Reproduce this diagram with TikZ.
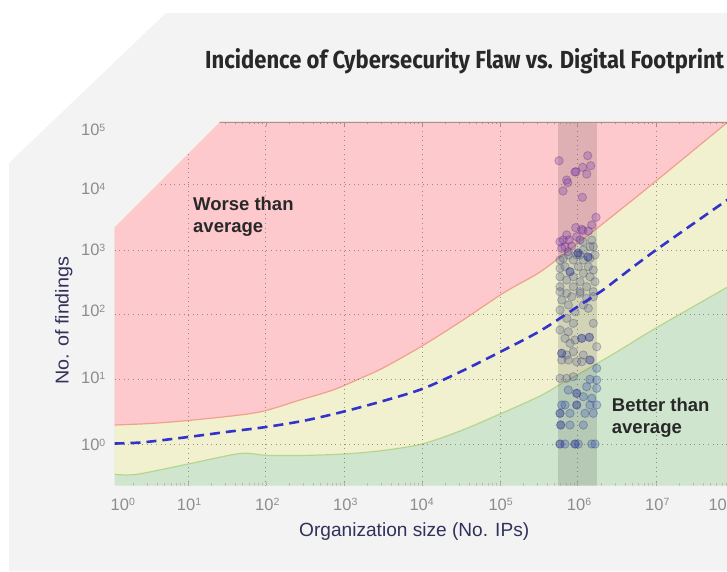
\documentclass[tikz,border=0pt]{standalone}
\usepackage{fontspec}
\setmainfont{Liberation Sans}
\newfontfamily\titlefont{Fira Sans}
\usepackage{graphicx}
\definecolor{bggray}{HTML}{F3F3F3}
\definecolor{redzone}{HTML}{FDC9CC}
\definecolor{yellowzone}{HTML}{F1F1CF}
\definecolor{greenzone}{HTML}{CFE5CE}
\definecolor{redline}{HTML}{F2A08E}
\definecolor{greenline}{HTML}{B6D68E}
\definecolor{meanblue}{HTML}{3333CC}
\definecolor{tickgray}{HTML}{8C8C8C}
\definecolor{axisnavy}{HTML}{31315C}
\definecolor{textdark}{HTML}{282828}
\definecolor{spinec}{HTML}{A89090}
\definecolor{ptpurple}{HTML}{8040B0}
\definecolor{ptslate}{HTML}{5A6490}
\definecolor{ptblue}{HTML}{3A58B8}
\definecolor{ptdark}{HTML}{25308F}
\newcommand\tenp[1]{10\raisebox{4.3pt}{\fontsize{10.5}{10.5}\selectfont #1}}
\begin{document}
\begin{tikzpicture}[x=1pt,y=-1pt,
  gridln/.style={black!65, opacity=.6, line width=1pt, dash pattern=on 1pt off 3.6pt},
  ticklab/.style={text=tickgray, font=\fontsize{16.5}{16.5}\selectfont, inner sep=0pt},
  zonelabel/.style={text=textdark, font=\fontsize{18.5}{22.5}\selectfont\bfseries, align=left, inner sep=0pt, anchor=north west},
  dotpurple/.style={fill=ptpurple, fill opacity=.3, draw=ptpurple!70!black, draw opacity=.35, line width=.8pt},
  dotslate/.style={fill=ptslate, fill opacity=.26, draw=ptslate!70!black, draw opacity=.32, line width=.8pt},
  dotblue/.style={fill=ptblue, fill opacity=.28, draw=ptblue!70!black, draw opacity=.35, line width=.8pt},
  dotdark/.style={fill=ptdark, fill opacity=.42, draw=ptdark, draw opacity=.5, line width=.8pt},
  spinetick/.style={spinec, line width=.7pt}
]
\useasboundingbox (0,0) rectangle (727,571);
\fill[white] (0,0) rectangle (727,571);
\fill[bggray] (9,163) -- (166,13) -- (727,13) -- (727,571) -- (9,571) -- cycle;

\begin{scope}
\clip (114.5,227.7) -- (220.5,121.7) -- (740,121.7) -- (740,485.7) -- (114.5,485.7) -- cycle;
\fill[greenzone] (100,100) rectangle (745,500);
\fill[yellowzone] (100,100) -- (100,474.3) -- plot[smooth,tension=.5] coordinates {(114.5,474.3) (136.7,474.3) (188,464) (240,453.5) (266,455.3) (300,455.5) (344,454) (383,450.5) (422,444) (460,431) (500,414) (540,396) (560,384.5) (577,375) (597,363.5) (620,350) (656,328) (740,280)} -- (745,100) -- cycle;
\fill[redzone] (100,100) -- (100,425) -- plot[smooth,tension=.5] coordinates {(114.5,425) (150,423.5) (188,420.5) (240,415) (266,410.5) (300,400) (333,390) (360,378.5) (383,368) (422,346) (460,322) (505,292) (540,272) (577,244) (620,210) (656,181) (740,112)} -- (745,100) -- cycle;
\draw[redline, line width=1.2pt] plot[smooth,tension=.5] coordinates {(114.5,425) (150,423.5) (188,420.5) (240,415) (266,410.5) (300,400) (333,390) (360,378.5) (383,368) (422,346) (460,322) (505,292) (540,272) (577,244) (620,210) (656,181) (740,112)};
\draw[greenline, line width=1.2pt] plot[smooth,tension=.5] coordinates {(114.5,474.3) (136.7,474.3) (188,464) (240,453.5) (266,455.3) (300,455.5) (344,454) (383,450.5) (422,444) (460,431) (500,414) (540,396) (560,384.5) (577,375) (597,363.5) (620,350) (656,328) (740,280)};
% band
\fill[black, opacity=.12] (557.5,121.7) rectangle (597.3,485.7);
% grid
\foreach \gx in {188.3,265.9,344.3,422.3,500,577.3,656,734}
  \draw[gridln] (\gx,121.7) -- (\gx,485.7);
\foreach \gy in {184.3,250,314.5,379.3,444}
  \draw[gridln] (114.5,\gy) -- (740,\gy);
% spine and ticks
\draw[spinec, line width=.8pt] (114.5,121.9) -- (740,121.9);
\foreach \d in {0,...,7}{
  \foreach \k in {2,...,9}{
    \pgfmathsetmacro\tx{188.3+77.95*(\d-1+log10(\k))}
    \draw[spinetick] (\tx,121.7) -- ++(0,2.6);
    \draw[spinetick, opacity=.5] (\tx,485.7) -- ++(0,-2.6);
  }
}
\foreach \gx in {188.3,265.9,344.3,422.3,500,577.3,656,734}{
  \draw[spinetick] (\gx,121.7) -- ++(0,4);
  \draw[spinetick, opacity=.6] (\gx,485.7) -- ++(0,-4);
}
% points
\foreach \px/\py in {559/160.7, 587.7/155.7, 590.7/165.7, 582.7/167.3, 586.7/174, 576/171.7, 575/172, 566.7/180, 567.7/182.7, 563/191, 582.3/197.3, 596/217.3, 591.7/225, 575.7/227.7, 581.7/229.3, 583/230.7, 588.3/231, 566.7/235, 563.3/240, 560/241.7, 569/240, 565/246.7, 571.7/246, 561.7/248.3, 568.3/251.7, 576.7/236.7, 580/240}
  \path[dotpurple] (\px,\py) circle[radius=4.2];
\foreach \px/\py in {583/241.7, 591.7/240, 593.3/246.7, 590/246.7, 583.3/250, 576.7/255, 580/255, 568.3/255, 563.3/258.3, 560/260, 573.3/260, 583.3/260, 590/258.3, 595/255, 560/268.3, 565/266.7, 578.3/266.7, 588.3/266.7, 593.3/270, 583.3/273.3, 560/276.7, 573.3/276.7, 590/276.7, 566.7/280, 580/281.7, 595/281.7, 560/286.7, 573.3/286.7, 586.7/286.7, 566.7/293.3, 580/293.3, 593.3/291.7, 560/291.7, 580/291.7, 571.7/296.7, 561.7/300, 586.7/298.3, 593.3/296.7, 568.3/305, 583.3/305, 560/310, 575/311.7, 588.3/308.3, 566.7/318.3, 573.3/323.3, 593.3/323.3, 560/330, 568.3/331.7, 565/338.3, 575/340, 570/343.3, 596.7/346.7, 566.7/355, 573.3/351.7, 583.3/355, 561.7/360, 568.3/360, 576.7/361.7, 581.7/361.7, 560/378.3, 566.7/378.3, 573.3/376.7}
  \path[dotslate] (\px,\py) circle[radius=4.2];
\foreach \px/\py in {596.7/368.3, 590/379.3, 596.7/380, 586.7/386.7, 568.3/390, 596.7/388.3, 591.7/398.3, 583.3/396.7, 561.7/405, 565/405, 590/405, 596.7/405, 570/413.3, 585/413.3, 593.3/413.3, 570/425, 583.3/425, 565/444, 578.3/444, 591.7/444, 595/444}
  \path[dotblue] (\px,\py) circle[radius=4.2];
\foreach \px/\py in {570/271.7, 581.7/338.3, 589.3/337.3, 561.7/353.3, 590/360, 576.7/393.3, 576.7/405, 560/413.3, 560.7/425, 575/444, 560/444, 578/253, 588/257}
  \path[dotdark] (\px,\py) circle[radius=4.2];
% mean line
\draw[meanblue, line width=2.6pt, dash pattern=on 10pt off 6pt] plot[smooth,tension=.5] coordinates {(114.5,443.5) (143,442.3) (188,437) (230,431.5) (266,427) (305,420.5) (344,411.5) (383,401) (422,389) (460,372) (500,352) (540,331) (577,307) (603,290) (620,277) (656,250) (740,191)};
\end{scope}

% texts
\node[anchor=base west, inner sep=0pt, text=textdark] (title) at (205,68.3)
  {\resizebox{519pt}{20pt}{\titlefont\bfseries Incidence of Cybersecurity Flaw vs. Digital Footprint}};
\node[zonelabel] (worse) at (193,196.5) {Worse than\\average};
\node[zonelabel] (better) at (611.7,397.8) {Better than\\average};

\node[ticklab, anchor=base west] (x0) at (110.5,510) {\tenp{0}};
\node[ticklab, anchor=base west] (x1) at (176.7,510) {\tenp{1}};
\node[ticklab, anchor=base west] (x2) at (255,510) {\tenp{2}};
\node[ticklab, anchor=base west] (x3) at (333,510) {\tenp{3}};
\node[ticklab, anchor=base west] (x4) at (409.3,510) {\tenp{4}};
\node[ticklab, anchor=base west] (x5) at (488.3,510) {\tenp{5}};
\node[ticklab, anchor=base west] (x6) at (566.7,510) {\tenp{6}};
\node[ticklab, anchor=base west] (x7) at (645,510) {\tenp{7}};
\node[ticklab, anchor=base west] (x8) at (708.3,510) {\tenp{8}};

\node[ticklab, anchor=base east] (y5) at (105.5,135.7) {\tenp{5}};
\node[ticklab, anchor=base east] (y4) at (105.5,194.7) {\tenp{4}};
\node[ticklab, anchor=base east] (y3) at (105.5,255.7) {\tenp{3}};
\node[ticklab, anchor=base east] (y2) at (105.5,316.7) {\tenp{2}};
\node[ticklab, anchor=base east] (y1) at (105.5,383.7) {\tenp{1}};
\node[ticklab, anchor=base east] (y0) at (105.5,450.7) {\tenp{0}};

\node[anchor=base west, inner sep=0pt, text=axisnavy] (xlab) at (299,536)
  {\resizebox{230pt}{!}{\fontsize{18}{18}\selectfont Organization size (No. IPs)}};
\node[anchor=base, rotate=90, inner sep=0pt, text=axisnavy] (ylab) at (68.5,320.8)
  {\resizebox{128pt}{13.5pt}{\fontsize{18}{18}\selectfont No. of findings}};
\end{tikzpicture}
\end{document}
